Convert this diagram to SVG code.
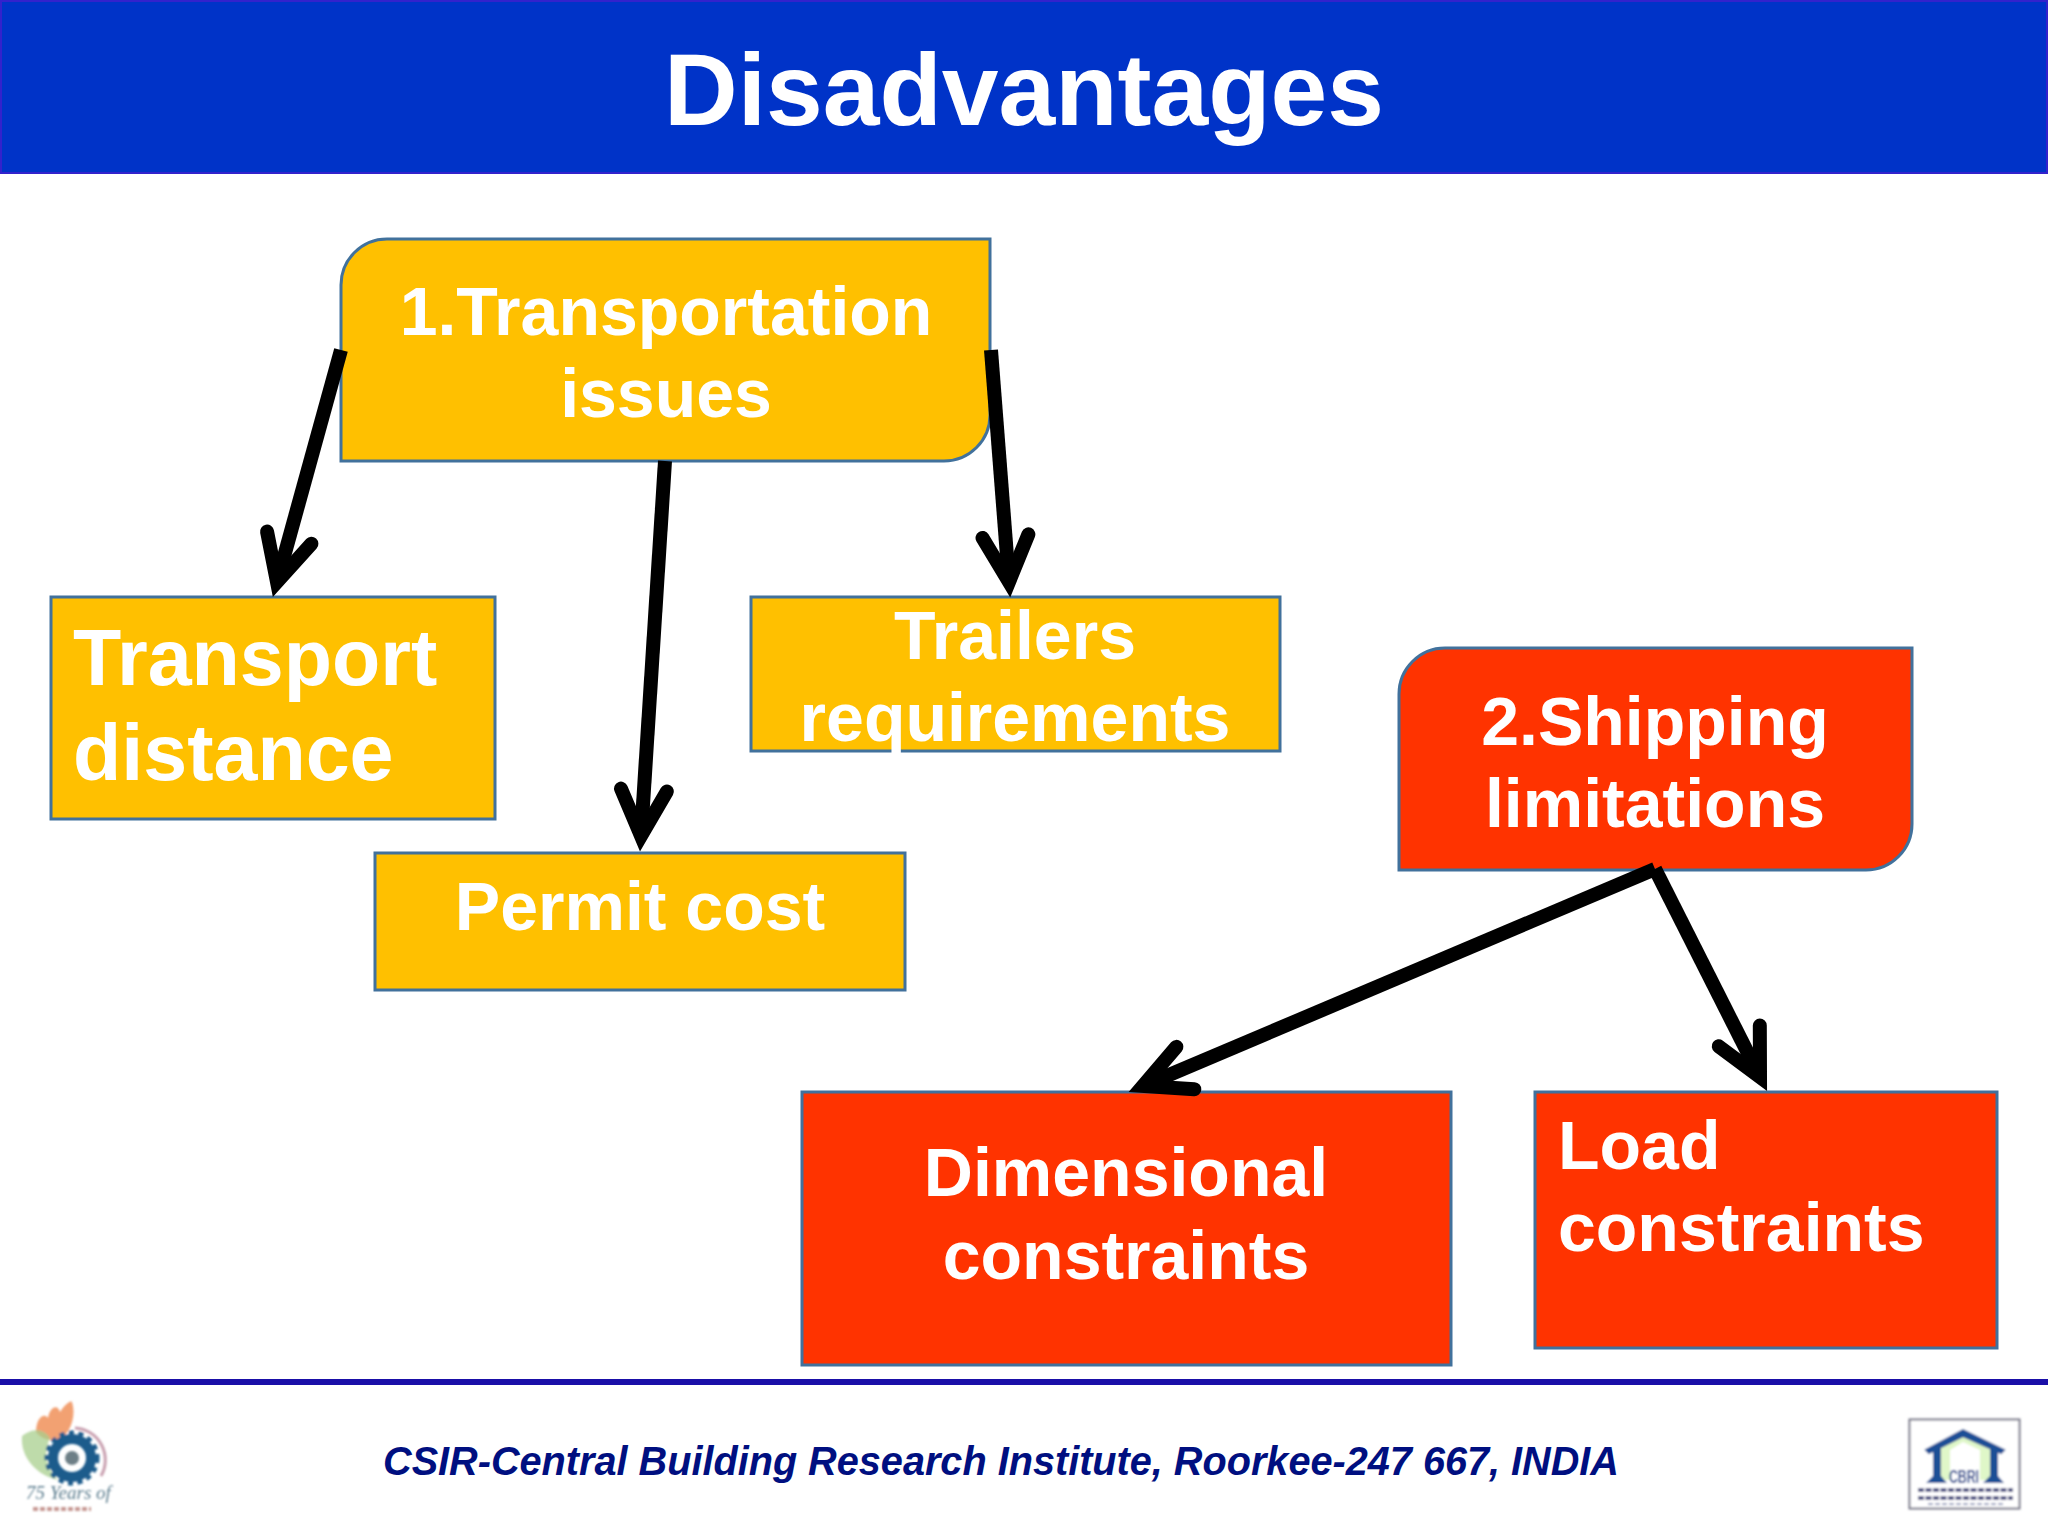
<svg xmlns="http://www.w3.org/2000/svg" width="2048" height="1536" viewBox="0 0 2048 1536">
<style>
text{font-family:"Liberation Sans",Arial,sans-serif;font-weight:700;fill:#fff}
.m{text-anchor:middle}
.b{stroke:#41719c;stroke-width:3}
.y{fill:#ffc000}
.r{fill:#ff3300}
.c{fill:none;stroke:#000;stroke-width:14;marker-end:url(#arrow)}
</style>
<defs>
<marker id="arrow" markerUnits="userSpaceOnUse" markerWidth="100" markerHeight="100" viewBox="-80 -50 100 100" refX="0" refY="0" orient="auto">
<path d="M-46,-23 L0,0 L-46,23" fill="none" stroke="#000" stroke-width="14" stroke-linecap="round" stroke-linejoin="miter" stroke-miterlimit="6"/>
</marker>
<filter id="soft" x="-10%" y="-10%" width="120%" height="120%"><feGaussianBlur stdDeviation="0.8"/></filter>
</defs>
<rect width="2048" height="1536" fill="#fff"/>
<g id="header">
<rect x="1" y="1" width="2046" height="172" fill="#0033c8" stroke="#3322cc" stroke-width="2"/>
<text class="m" x="1024" y="125" font-size="102">Disadvantages</text>
</g>
<g id="node-transportation">
<path class="b y" d="M387,239H990V415A46,46 0 0 1 944,461H341V285A46,46 0 0 1 387,239Z"/>
<text class="m" x="666" y="335" font-size="68">1.Transportation</text>
<text class="m" x="666" y="417" font-size="68">issues</text>
</g>
<g id="node-transport-distance">
<rect class="b y" x="51" y="597" width="444" height="222"/>
<text x="73" y="685" font-size="79">Transport</text>
<text x="73" y="780" font-size="79">distance</text>
</g>
<g id="node-trailers">
<rect class="b y" x="751" y="597" width="529" height="154"/>
<text class="m" x="1015" y="659" font-size="68">Trailers</text>
<text class="m" x="1015" y="741" font-size="68">requirements</text>
</g>
<g id="node-permit">
<rect class="b y" x="375" y="853" width="530" height="137"/>
<text class="m" x="640" y="930" font-size="68">Permit cost</text>
</g>
<g id="node-shipping">
<path class="b r" d="M1445,648H1912V824A46,46 0 0 1 1866,870H1399V694A46,46 0 0 1 1445,648Z"/>
<text class="m" x="1655" y="745" font-size="68">2.Shipping</text>
<text class="m" x="1655" y="827" font-size="68">limitations</text>
</g>
<g id="node-dimensional">
<rect class="b r" x="802" y="1092" width="649" height="273"/>
<text class="m" x="1126" y="1196" font-size="68">Dimensional</text>
<text class="m" x="1126" y="1279" font-size="68">constraints</text>
</g>
<g id="node-load">
<rect class="b r" x="1535" y="1092" width="462" height="256"/>
<text x="1558" y="1169" font-size="68">Load</text>
<text x="1558" y="1251" font-size="68">constraints</text>
</g>
<g id="connectors">
<line class="c" x1="341" y1="350" x2="277" y2="582"/>
<line class="c" x1="665" y1="461" x2="641" y2="836"/>
<line class="c" x1="991" y1="350" x2="1009" y2="582"/>
<line class="c" x1="1655" y1="869" x2="1143" y2="1086"/>
<line class="c" x1="1655" y1="869" x2="1760" y2="1077"/>
</g>
<g id="footer">
<rect x="0" y="1379" width="2048" height="6" fill="#1a0fa8"/>
<text x="383" y="1475" font-size="40" font-style="italic" style="fill:#000f80" textLength="1236" lengthAdjust="spacingAndGlyphs">CSIR-Central Building Research Institute, Roorkee-247 667, INDIA</text>
</g>
<g id="logo-csir" filter="url(#soft)">
<path d="M36,1432C36,1418 44,1412 48,1418C50,1406 58,1404 60,1412C64,1406 70,1400 72,1402C76,1414 72,1430 62,1438C52,1442 42,1440 36,1432Z" fill="#f0905a" opacity=".85"/>
<path d="M22,1436C32,1428 44,1428 50,1438C42,1456 48,1470 58,1480C38,1476 20,1458 22,1436Z" fill="#a8cf8e" opacity=".75"/>
<circle cx="72" cy="1458" r="19" fill="none" stroke="#1d5c8c" stroke-width="10"/>
<circle cx="72" cy="1458" r="25" fill="none" stroke="#1d5c8c" stroke-width="5" stroke-dasharray="5 4.5"/>
<circle cx="72" cy="1458" r="7" fill="#6d7f86"/>
<path d="M75,1428A32,32 0 0 1 101,1476" fill="none" stroke="#c9a0b0" stroke-width="3"/>
<text x="26" y="1499" font-size="19" font-style="italic" style="fill:#5e7f90;font-weight:400;font-family:'Liberation Serif',serif">75 Years of</text>
<path d="M33,1509H91" stroke="#c79a94" stroke-width="4" stroke-dasharray="5 2"/>
</g>
<g id="logo-cbri" filter="url(#soft)">
<rect x="1909.500" y="1419.500" width="110" height="89" fill="#fff" stroke="#778" stroke-width="2"/>
<path d="M1940,1480V1447L1963,1434L1990,1447V1480Z" fill="#dff7c8"/>
<path d="M1950,1480V1450L1963,1442L1980,1450V1480Z" fill="#fff"/>
<path d="M1926,1450L1963,1430L2004,1450L2001,1453L1963,1436L1929,1453Z" fill="#1d4f96" stroke="#1d4f96" stroke-width="2"/>
<path d="M1933,1446H1941V1476L1947,1483H1926L1933,1476Z M1990,1446H1998V1476L2004,1483H1983L1990,1476Z" fill="#1d4f96"/>
<text class="m" x="1964" y="1483" font-size="19" style="fill:#1a3f8c" textLength="30" lengthAdjust="spacingAndGlyphs">CBRI</text>
<path d="M1918,1490H2013M1918,1498H2013" stroke="#3a3f78" stroke-width="3.500" stroke-dasharray="6 1.500" fill="none"/>
<path d="M1928,1504H2003" stroke="#9aa0c0" stroke-width="2" stroke-dasharray="5 2"/>
</g>
</svg>
